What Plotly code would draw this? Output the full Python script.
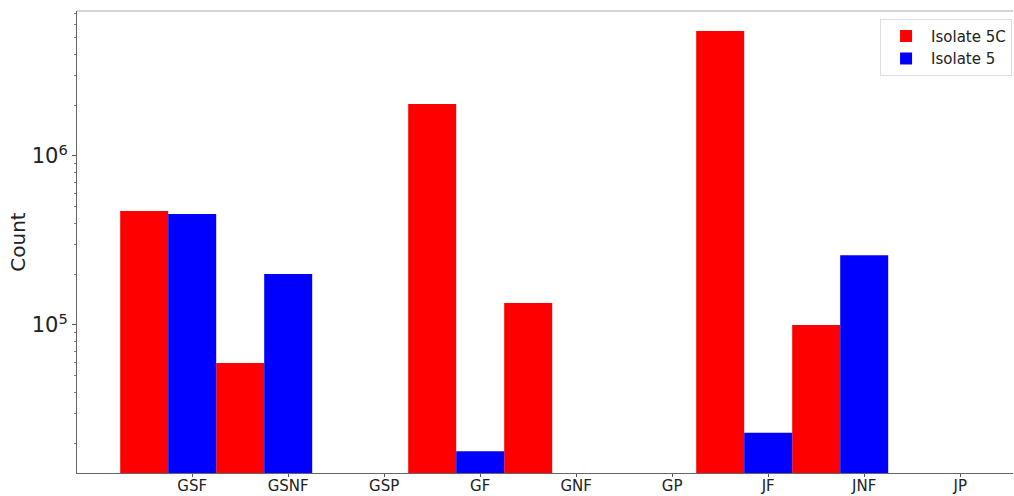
import plotly.graph_objects as go

# --- data ---
categories = ["GSF", "GSNF", "GSP", "GF", "GNF", "GP", "JF", "JNF", "JP"]
isolate_5c = [473000, 59600, None, 2030000, 135000, None, 5500000, 100000, None]
isolate_5 = [454000, 200000, None, 17900, None, None, 23000, 259000, None]

fig = go.Figure()
fig.add_trace(go.Bar(
    x=categories, y=isolate_5c, name="Isolate 5C",
    marker=dict(color="#ff0000", line=dict(width=0)),
    width=0.5, offset=-0.75,
))
fig.add_trace(go.Bar(
    x=categories, y=isolate_5, name="Isolate 5",
    marker=dict(color="#0000ff", line=dict(width=0)),
    width=0.5, offset=-0.25,
))

minor_vals = [m * 10 ** e for e in (4, 5, 6) for m in range(2, 10) if m * 10 ** e < 7.3e6]

fig.update_layout(
    width=1014, height=496,
    margin=dict(l=77, r=1, t=11, b=23, autoexpand=False),
    plot_bgcolor="white", paper_bgcolor="white",
    font=dict(family="DejaVu Sans", color="#222222"),
    barmode="overlay",
    showlegend=True,
    legend=dict(
        x=0.999, y=0.983, xanchor="right", yanchor="top",
        bgcolor="rgba(255,255,255,0.8)", bordercolor="#dddddd", borderwidth=1,
        font=dict(size=15), itemwidth=40, tracegroupgap=2,
    ),
    xaxis=dict(
        type="category", range=[-1.2, 8.55], automargin=False,
        tickfont=dict(size=15), ticks="outside", ticklen=3, tickcolor="#555555",
        ticklabelstandoff=-4,
        showline=True, linecolor="#666666", linewidth=1, mirror=False,
        showgrid=False, zeroline=False,
    ),
    yaxis=dict(
        type="log", range=[4.124, 6.858], automargin=False,
        tickvals=[1e5, 1e6], ticktext=["10<sup>5</sup>", "10<sup>6</sup>"],
        tickfont=dict(size=21), ticks="outside", ticklen=4, tickcolor="#555555",
        minor=dict(tickvals=minor_vals, ticks="outside", ticklen=2, tickcolor="#777777", showgrid=False),
        showline=True, linecolor="#666666", linewidth=1,
        showgrid=False, zeroline=False,
        title=dict(text="Count", font=dict(size=20), standoff=0),
    ),
    shapes=[dict(type="line", xref="paper", yref="paper", x0=0, x1=1, y0=1, y1=1,
                 line=dict(color="#aaaaaa", width=1))],
)

fig.write_html("out.html", config={"displayModeBar": False},
               post_script="document.body.style.margin='0px';")
